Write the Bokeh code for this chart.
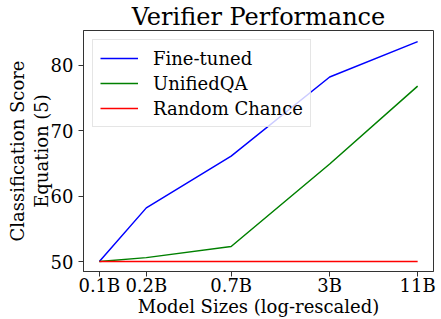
from bokeh.plotting import figure
from bokeh.models import FixedTicker, Legend, LegendItem
from bokeh.embed import file_html
from bokeh.resources import INLINE

sizes = [0.1, 0.2, 0.7, 3, 11]
size_labels = ["0.1B", "0.2B", "0.7B", "3B", "11B"]
fine_tuned = [50.0, 58.2, 66.1, 78.2, 83.6]
unified_qa = [50.0, 50.6, 52.3, 64.9, 76.8]
random_chance = [50.0, 50.0, 50.0, 50.0, 50.0]
y_ticks = [50, 60, 70, 80]

FONT = "DejaVu Serif"
FS = "18px"

p = figure(width=441, height=319, x_axis_type="log",
           x_range=(0.0791, 13.9), y_range=(48.48, 85.3),
           output_backend="svg", toolbar_location=None,
           min_border_left=83, min_border_right=8,
           min_border_top=30, min_border_bottom=44)

p.title.text = "Verifier Performance"
p.title.text_font = FONT
p.title.text_font_size = "24px"
p.title.text_font_style = "normal"
p.title.align = "center"
p.title.text_color = "black"
p.title.standoff = 0

r1 = p.line(sizes, fine_tuned, line_color="blue", line_width=1.5)
r2 = p.line(sizes, unified_qa, line_color="green", line_width=1.5)
r3 = p.line(sizes, random_chance, line_color="red", line_width=1.5)

legend = Legend(items=[LegendItem(label="Fine-tuned", renderers=[r1]),
                       LegendItem(label="UnifiedQA", renderers=[r2]),
                       LegendItem(label="Random Chance", renderers=[r3])],
                location="top_left")
legend.label_text_font = FONT
legend.label_text_font_size = FS
legend.label_text_color = "black"
legend.glyph_width = 38
legend.label_height = 22
legend.glyph_height = 22
legend.label_standoff = 15
legend.spacing = 3
legend.padding = 7
legend.margin = 9
legend.border_line_color = "#cccccc"
legend.border_line_width = 1
legend.background_fill_alpha = 0.8
p.add_layout(legend)

p.xaxis.ticker = FixedTicker(ticks=sizes, minor_ticks=[])
p.xaxis.major_label_overrides = {s: l for s, l in zip(sizes, size_labels)}
p.yaxis.ticker = FixedTicker(ticks=y_ticks, minor_ticks=[])

p.xaxis.axis_label = "Model Sizes (log-rescaled)"
p.yaxis.axis_label = "Classification Score\nEquation (5)"

for ax in (p.xaxis[0], p.yaxis[0]):
    ax.axis_label_text_font = FONT
    ax.axis_label_text_font_size = FS
    ax.axis_label_text_font_style = "normal"
    ax.axis_label_text_color = "black"
    ax.major_label_text_font = FONT
    ax.major_label_text_font_size = FS
    ax.major_label_text_color = "black"
    ax.major_tick_in = 0
    ax.major_tick_out = 5
    ax.minor_tick_in = 0
    ax.minor_tick_out = 0
    ax.axis_line_color = "#333333"
    ax.major_tick_line_color = "#333333"

p.xaxis.major_label_standoff = -2
p.xaxis.axis_label_standoff = -3
p.yaxis.major_label_standoff = 5
p.yaxis.axis_label_standoff = -4
p.yaxis.axis_label_text_line_height = 1.1

p.xgrid.grid_line_color = None
p.ygrid.grid_line_color = None
p.outline_line_color = "#333333"
p.outline_line_alpha = 1

open("out.html", "w").write(file_html(p, INLINE))
